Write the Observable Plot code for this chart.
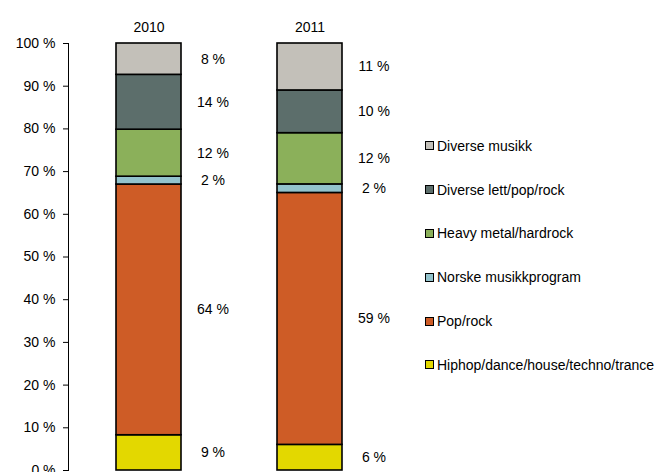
<!DOCTYPE html>
<html>
<head>
<meta charset="utf-8">
<script src="https://cdn.jsdelivr.net/npm/d3@7"></script>
<script src="https://cdn.jsdelivr.net/npm/@observablehq/plot@0.6"></script>
<style>
  body { margin: 0; background: white; font-family: "Liberation Sans", Arial, sans-serif; }
  #wrap { position: relative; width: 662px; height: 472px; overflow: hidden; }
  #legend { position: absolute; left: 425px; top: 124px; font-size: 14px; color: #000; }
  .item { display: flex; align-items: center; height: 43.8px; white-space: nowrap; }
  .sw { width: 7px; height: 7px; border: 1.5px solid #000; margin-right: 3px; }
</style>
</head>
<body>
<div id="wrap"></div>
<script>
const years = ["2010", "2011"];
const categories = [
  "Hiphop/dance/house/techno/trance",
  "Pop/rock",
  "Norske musikkprogram",
  "Heavy metal/hardrock",
  "Diverse lett/pop/rock",
  "Diverse musikk"
];
const values2010 = [9, 64, 2, 12, 14, 8];
const values2011 = [6, 59, 2, 12, 10, 11];
const colors = ["#E3D800", "#CE5C26", "#93C3CC", "#8BB05A", "#5C6E6B", "#C3C0B9"];
const yTicks = [0, 0.1, 0.2, 0.3, 0.4, 0.5, 0.6, 0.7, 0.8, 0.9, 1];

const series = [values2010, values2011];
const data = [];
years.forEach((year, i) => {
  categories.forEach((category, j) => {
    data.push({year, category, value: series[i][j]});
  });
});

const font = "Liberation Sans, Arial, sans-serif";

const chart = Plot.plot({
  width: 662,
  height: 472,
  marginLeft: 68,
  marginRight: 272,
  marginTop: 43,
  marginBottom: 2,
  style: {fontFamily: font, fontSize: "14px", color: "#000", background: "white", overflow: "visible"},
  x: {domain: years, paddingInner: 0.596, paddingOuter: 0.298, axis: null},
  y: {domain: [0, 1], axis: null},
  color: {domain: categories, range: colors},
  marks: [
    Plot.barY(data, {
      x: "year", y: "value", z: "category", fill: "category",
      offset: "normalize", stroke: "#000", strokeWidth: 1.6
    }),
    Plot.text(data, Plot.stackY({
      x: "year", y: "value", z: "category", offset: "normalize",
      text: d => d.value + " %", dx: 64, fontSize: 14, fill: "#000"
    })),
    Plot.frame({anchor: "left", stroke: "#000"}),
    Plot.axisY({
      ticks: yTicks, tickFormat: d => Math.round(d * 100) + " %", label: null,
      tickSize: 5, tickPadding: 8, fontSize: 14, stroke: "#000", fill: "#000"
    }),
    Plot.axisX({anchor: "top", tickSize: 0, tickPadding: 12, fontSize: 14, fill: "#000", label: null})
  ]
});

const wrap = document.getElementById("wrap");
wrap.appendChild(chart);

const legend = document.createElement("div");
legend.id = "legend";
categories.slice().reverse().forEach((c) => {
  const idx = categories.indexOf(c);
  const item = document.createElement("div");
  item.className = "item";
  const sw = document.createElement("span");
  sw.className = "sw";
  sw.style.background = colors[idx];
  const t = document.createElement("span");
  t.textContent = c;
  item.appendChild(sw);
  item.appendChild(t);
  legend.appendChild(item);
});
wrap.appendChild(legend);
</script>
</body>
</html>
